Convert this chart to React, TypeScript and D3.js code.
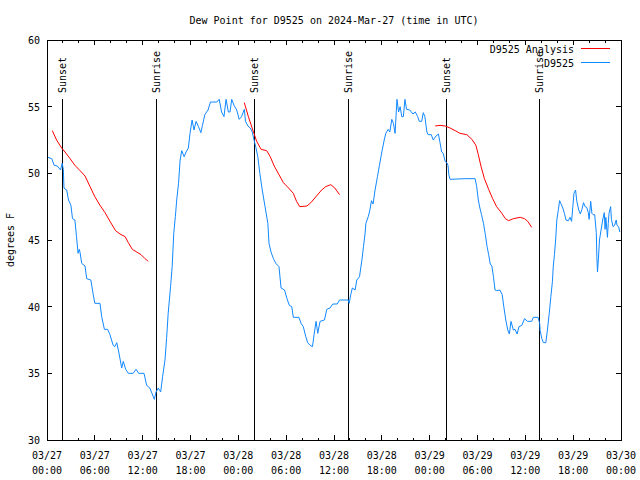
import * as d3 from "d3"

// hours after 2024-03-27 00:00 UTC
const obsHours = [
  0.1, 0.6, 0.9, 1.3, 1.7, 1.9, 2.05, 2.13, 2.47, 2.7, 3.0, 3.2, 3.5, 3.7, 3.9, 4.05, 4.15, 4.35, 4.77, 4.98,
  5.5, 5.8, 6.0, 6.65, 6.86, 7.2, 7.6, 7.9, 8.3, 8.5, 8.75, 9.0, 9.37, 9.57, 9.87, 10.2, 10.8, 11.17, 11.5, 12.17,
  12.5, 12.9, 13.17, 13.46, 13.68, 13.96, 14.26, 14.5, 14.8, 15.0, 15.2, 15.5, 15.7, 15.9, 16.1, 16.27, 16.5, 16.7, 16.9, 17.2,
  17.44, 17.73, 17.94, 18.2, 18.44, 18.7, 19.0, 19.3, 19.5, 19.8, 20.2, 20.5, 21.3, 21.6, 21.9, 22.2, 22.46, 22.75, 22.96, 23.17,
  23.46, 23.8, 24.1, 24.4, 24.75, 24.9, 25.2, 25.5, 25.75, 25.97, 26.2, 26.44, 26.7, 27.0, 27.35, 27.7, 27.85, 28.1, 28.4, 28.7,
  29.1, 29.36, 29.8, 30.1, 30.4, 30.7, 30.9, 31.6, 31.87, 32.15, 32.46, 32.7, 33.0, 33.3, 33.5, 33.75, 33.96, 34.25, 34.8, 35.1,
  35.5, 35.85, 36.4, 36.7, 37.8, 37.9, 38.1, 38.3, 38.65, 38.86, 39.2, 39.5, 39.7, 39.9, 40.0, 40.3, 40.5, 40.7, 40.9, 41.15,
  41.45, 41.7, 42.0, 42.3, 42.5, 42.8, 43.0, 43.25, 43.45, 43.66, 43.9, 44.1, 44.3, 44.5, 44.7, 44.9, 45.1, 45.5, 45.9, 46.2,
  46.5, 46.7, 47.0, 47.2, 47.4, 47.65, 47.8, 48.2, 48.45, 48.8, 49.1, 49.3, 49.5, 49.7, 49.94, 50.15, 50.3, 50.4, 50.56, 52.45,
  53.7, 53.9, 54.1, 54.3, 54.5, 54.75, 54.96, 55.2, 55.4, 55.6, 55.8, 56.0, 56.2, 56.4, 56.8, 57.1, 57.3, 57.55, 57.8, 58.0,
  58.2, 58.5, 58.7, 58.97, 59.2, 59.56, 59.9, 60.26, 60.8, 61.0, 61.6, 61.8, 61.86, 62.07, 62.27, 62.57, 62.77, 63.0, 63.2, 63.4,
  63.5, 63.65, 63.8, 63.95, 64.15, 64.3, 64.45, 64.7, 64.9, 65.1, 65.4, 65.6, 65.8, 65.96, 66.1, 66.3, 66.46, 66.7, 66.9, 67.1,
  67.3, 67.5, 67.7, 67.9, 68.0, 68.2, 68.35, 68.5, 68.7, 68.9, 68.97, 69.05, 69.17, 69.3, 69.5, 69.7, 69.9, 70.0, 70.1, 70.3,
  70.4, 70.5, 70.7, 70.8, 71.0, 71.2, 71.4, 71.5, 71.7, 71.85,
]
const obsValues = [
  51.2, 51.1, 50.6, 50.55, 50.25, 50.75, 50.3, 48.9, 48.75, 48.0, 47.6, 46.6, 46.5, 45.25, 44.0, 44.3, 44.05, 43.25, 43.05, 42.1,
  42.0, 40.9, 40.25, 40.25, 39.25, 38.3, 38.3, 37.9, 37.1, 37.0, 37.3, 36.6, 35.4, 35.9, 35.3, 35.0, 35.0, 35.3, 35.0, 35.0,
  34.1, 33.9, 33.5, 33.05, 33.6, 33.9, 33.6, 34.75, 36.0, 37.6, 39.5, 41.5, 43.0, 45.5, 46.75, 48.0, 49.25, 51.0, 51.7, 51.25,
  51.6, 51.9, 53.0, 54.0, 53.25, 53.9, 53.5, 53.05, 53.6, 54.4, 54.75, 55.35, 55.35, 55.55, 54.6, 54.25, 55.55, 54.6, 54.6, 55.55,
  55.1, 54.75, 54.05, 54.25, 54.8, 53.9, 53.55, 53.4, 53.1, 52.5, 51.95, 51.25, 50.0, 48.75, 47.5, 46.25, 44.75, 44.1, 43.6, 43.25,
  43.0, 41.4, 41.25, 40.6, 40.1, 40.0, 39.2, 39.2, 38.75, 38.5, 37.75, 37.3, 37.1, 37.0, 37.9, 38.9, 38.0, 38.9, 39.0, 39.8,
  39.9, 40.2, 40.2, 40.5, 40.5, 40.25, 40.9, 41.4, 41.25, 42.0, 42.25, 43.5, 44.5, 45.5, 46.25, 46.75, 47.25, 47.95, 47.7, 48.75,
  49.75, 50.6, 51.6, 52.5, 53.0, 53.3, 53.1, 54.05, 53.75, 53.0, 55.55, 54.6, 55.0, 54.25, 54.25, 55.55, 54.8, 54.75, 54.45, 54.6,
  54.25, 53.9, 53.9, 54.55, 54.25, 53.1, 52.9, 52.9, 52.5, 52.8, 52.95, 52.3, 51.6, 51.5, 50.9, 50.8, 50.6, 49.9, 49.55, 49.6,
  49.6, 49.0, 48.0, 47.4, 46.9, 46.25, 45.5, 44.5, 43.9, 43.2, 43.05, 42.25, 41.25, 41.2, 41.25, 40.9, 40.0, 39.0, 38.25, 37.95,
  38.9, 38.25, 38.3, 37.95, 38.5, 38.6, 39.1, 38.9, 38.9, 39.2, 39.2, 38.75, 38.2, 37.6, 37.3, 37.3, 38.25, 39.5, 40.75, 41.9,
  43.0, 43.9, 45.0, 46.5, 47.3, 47.95, 47.75, 47.4, 47.0, 46.5, 46.45, 46.7, 46.4, 47.5, 48.5, 48.75, 47.9, 47.25, 46.95, 47.3,
  47.8, 47.5, 47.45, 47.05, 46.55, 47.9, 47.0, 46.9, 46.9, 45.55, 43.75, 42.6, 43.6, 45.0, 45.75, 46.5, 47.05, 45.8, 46.7, 45.2,
  46.25, 47.0, 47.5, 46.55, 46.0, 46.1, 46.5, 46.1, 46.0, 45.6,
]

// analysis runs, null breaks the line between runs
const anaHours = [
  0.67, 1.2, 1.84, 2.26, 2.9, 3.5, 4.15, 4.77, 5.4, 6.0, 6.65, 7.28, 7.9, 8.6, 9.16, 9.8, 10.2, 10.7, 11.25, 11.8, 12.3, 12.7,
  18.0,
  24.75, 25.26, 25.9, 26.3, 26.85, 27.56, 28.0, 28.5, 29.1, 29.65, 30.3, 30.9, 31.3, 31.7, 32.6, 33.1, 33.8, 34.45, 34.96, 35.6, 36.1, 36.7,
  42.0,
  48.7, 49.3, 49.94, 50.56, 51.2, 51.8, 52.66, 53.3, 53.8, 54.1, 54.45, 54.87, 55.4, 55.9, 56.4, 57.05, 57.5, 57.9, 58.5, 59.35, 59.9, 60.3, 60.8,
]
const anaValues = [
  53.2, 52.5, 51.9, 51.6, 51.1, 50.6, 50.2, 49.8, 49.0, 48.25, 47.6, 47.05, 46.4, 45.7, 45.45, 45.25, 44.8, 44.3, 44.1, 43.9, 43.6, 43.4,
  null,
  55.3, 54.25, 53.1, 52.4, 51.8, 51.7, 51.25, 50.55, 49.9, 49.3, 48.9, 48.5, 47.9, 47.5, 47.55, 47.8, 48.3, 48.75, 49.0, 49.15, 48.9, 48.4,
  null,
  53.55, 53.6, 53.55, 53.4, 53.2, 53.0, 52.9, 52.55, 52.1, 51.4, 50.5, 49.6, 48.8, 48.1, 47.5, 47.0, 46.6, 46.45, 46.6, 46.7, 46.6, 46.4, 45.95,
]

const sunLabels = ["Sunset", "Sunrise", "Sunset", "Sunrise", "Sunset", "Sunrise"]
const sunHours = [1.92, 13.71, 26.0, 37.8, 50.1, 61.77]

const yTicks = [30, 35, 40, 45, 50, 55, 60]

const start = Date.UTC(2024, 2, 27)
const toDate = (h: number) => new Date(start + h * 3600 * 1000)

const W = 640
const H = 480
const L = 47
const R = 621
const T = 40
const B = 440
const FONT = "'DejaVu Sans Mono', monospace"
const BLUE = "#1188ff"

export default function App() {
  const x = d3.scaleUtc().domain([toDate(0), toDate(72)]).range([L, R])
  const y = d3.scaleLinear().domain([30, 60]).range([B, T])

  const obs = obsHours.map((h, i) => ({ t: toDate(h), v: obsValues[i] as number | null }))
  const ana = anaHours.map((h, i) => ({ t: toDate(h), v: anaValues[i] }))

  const line = d3
    .line<{ t: Date; v: number | null }>()
    .defined((d) => d.v != null)
    .x((d) => x(d.t))
    .y((d) => y(d.v as number))

  const majorTicks = x.ticks(d3.utcHour.every(6)!)
  const minorTicks = x.ticks(d3.utcHour.every(2)!)
  const fmtDay = d3.utcFormat("%m/%d")
  const fmtTime = d3.utcFormat("%H:%M")

  return (
    <svg
      width={W}
      height={H}
      style={{ position: "absolute", left: 0, top: 0, background: "#fff" }}
      fontFamily={FONT}
      fontSize={10}
    >
      <text x={334} y={24} textAnchor="middle">
        Dew Point for D9525 on 2024-Mar-27 (time in UTC)
      </text>

      <g shapeRendering="crispEdges" stroke="#000">
        {minorTicks.map((t, i) => (
          <g key={"m" + i}>
            <line x1={x(t)} x2={x(t)} y1={B} y2={B - 2.5} />
            <line x1={x(t)} x2={x(t)} y1={T} y2={T + 2.5} />
          </g>
        ))}
        {majorTicks.map((t, i) => (
          <g key={"M" + i}>
            <line x1={x(t)} x2={x(t)} y1={B} y2={B - 5} />
            <line x1={x(t)} x2={x(t)} y1={T} y2={T + 5} />
          </g>
        ))}
        {yTicks.map((v) => (
          <g key={v}>
            <line x1={L} x2={L + 5} y1={y(v)} y2={y(v)} />
            <line x1={R} x2={R - 5} y1={y(v)} y2={y(v)} />
          </g>
        ))}
      </g>

      {yTicks.map((v) => (
        <text key={v} x={40} y={y(v) + 4} textAnchor="end">
          {v}
        </text>
      ))}
      {majorTicks.map((t, i) => (
        <text key={i} x={x(t)} textAnchor="middle">
          <tspan x={x(t)} y={459}>
            {fmtDay(t)}
          </tspan>
          <tspan x={x(t)} y={474}>
            {fmtTime(t)}
          </tspan>
        </text>
      ))}

      <text transform={`translate(14,${(T + B) / 2}) rotate(-90)`} textAnchor="middle">
        degrees F
      </text>

      {sunHours.map((h, i) => (
        <g key={i}>
          <line
            x1={Math.round(x(toDate(h))) + 0.5}
            x2={Math.round(x(toDate(h))) + 0.5}
            y1={99}
            y2={B}
            stroke="#000"
            shapeRendering="crispEdges"
          />
          <text transform={`translate(${x(toDate(h)) + 4},93) rotate(-90)`}>{sunLabels[i]}</text>
        </g>
      ))}

      <path d={line(ana) ?? ""} fill="none" stroke="#ff0000" strokeWidth={1} />
      <path d={line(obs) ?? ""} fill="none" stroke={BLUE} strokeWidth={1} />

      <text x={574} y={53} textAnchor="end">
        D9525 Analysis
      </text>
      <line x1={581} x2={610} y1={48.5} y2={48.5} stroke="#ff0000" shapeRendering="crispEdges" />
      <text x={574} y={67} textAnchor="end">
        D9525
      </text>
      <line x1={581} x2={610} y1={62.5} y2={62.5} stroke={BLUE} shapeRendering="crispEdges" />

      <rect
        x={L + 0.5}
        y={T + 0.5}
        width={R - L}
        height={B - T}
        fill="none"
        stroke="#000"
        shapeRendering="crispEdges"
      />
    </svg>
  )
}
